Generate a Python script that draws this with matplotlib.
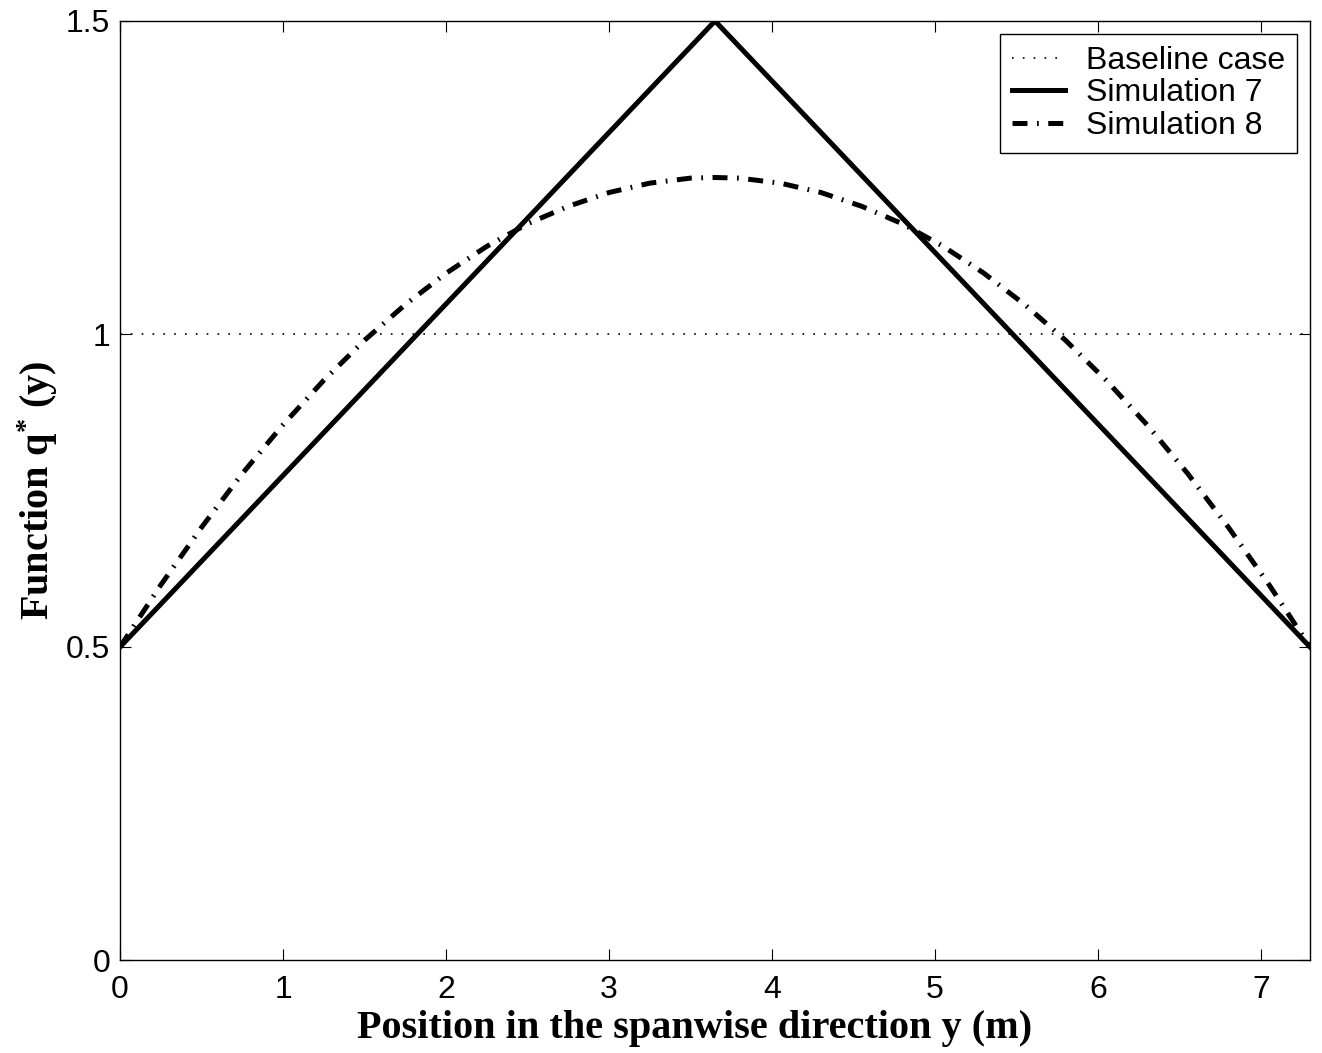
import matplotlib
matplotlib.use("Agg")
import matplotlib.pyplot as plt

# Data
x_base = [0.0, 7.3]
q_base = [1.0, 1.0]

x_sim7 = [0.0, 3.65, 7.3]
q_sim7 = [0.5, 1.5, 0.5]

x_sim8 = [0.0, 0.25, 0.5, 0.75, 1.0, 1.25, 1.5, 1.75, 2.0, 2.25, 2.5, 2.75, 3.0, 3.25, 3.5, 3.65,
          3.8, 4.05, 4.3, 4.55, 4.8, 5.05, 5.3, 5.55, 5.8, 6.05, 6.3, 6.55, 6.8, 7.05, 7.3]
q_sim8 = [0.50, 0.599, 0.691, 0.777, 0.855, 0.926, 0.990, 1.047, 1.097, 1.140, 1.176, 1.204, 1.226, 1.241, 1.249, 1.25,
          1.249, 1.241, 1.226, 1.204, 1.176, 1.140, 1.097, 1.047, 0.990, 0.926, 0.855, 0.777, 0.691, 0.599, 0.50]

x_ticks = [0, 1, 2, 3, 4, 5, 6, 7]
y_ticks = [0, 0.5, 1, 1.5]
y_ticklabels = ["0", "0.5", "1", "1.5"]

plt.rcParams['mathtext.fontset'] = 'custom'
plt.rcParams['mathtext.rm'] = 'Liberation Serif:bold'
plt.rcParams['mathtext.it'] = 'Liberation Serif:bold'
plt.rcParams['mathtext.bf'] = 'Liberation Serif:bold'

fig = plt.figure(figsize=(13.22, 10.53), dpi=100)
ax = fig.add_axes([120/1322, 1-960/1053, (1310-120)/1322, (960-21)/1053])

ax.plot(x_base, q_base, color='black', lw=1.2, linestyle=(0, (1, 5.5)), label='Baseline case')
ax.plot(x_sim7, q_sim7, color='black', lw=3.6, linestyle='-', label='Simulation 7', solid_joinstyle='miter')
ax.plot(x_sim8, q_sim8, color='black', lw=3.6, linestyle=(0, (3.0, 1.9, 0.35, 1.9)), label='Simulation 8')

ax.set_xlim(0, 7.3)
ax.set_ylim(0, 1.5)
ax.set_xticks(x_ticks)
ax.set_xticklabels([str(t) for t in x_ticks])
ax.set_yticks(y_ticks)
ax.set_yticklabels(y_ticklabels)

ax.tick_params(direction='in', length=8, width=0.8, top=True, right=True, labelsize=23)
ax.tick_params(axis='x', pad=11)
ax.tick_params(axis='y', pad=7)
for lab in ax.get_xticklabels() + ax.get_yticklabels():
    lab.set_family('Liberation Sans')
for sp in ax.spines.values():
    sp.set_linewidth(1.0)

ax.set_xlabel('Position in the spanwise direction y (m)', family='Liberation Serif',
              fontweight='bold', fontsize=29)
ax.xaxis.set_label_coords(0.483, -78/939, transform=ax.transAxes)
ax.xaxis.label.set_verticalalignment('baseline')
ax.set_ylabel('Function q$^{*}$ (y)', family='Liberation Serif',
              fontweight='bold', fontsize=29, labelpad=4)

leg = ax.legend(loc='upper right', prop={'family': 'Liberation Sans', 'size': 23},
                fancybox=False, framealpha=1, edgecolor='black',
                handlelength=1.65, borderpad=0.38, labelspacing=0.08,
                handletextpad=0.65, borderaxespad=0.4)
leg.get_frame().set_linewidth(1.0)

fig.savefig('out.png', dpi=100)
